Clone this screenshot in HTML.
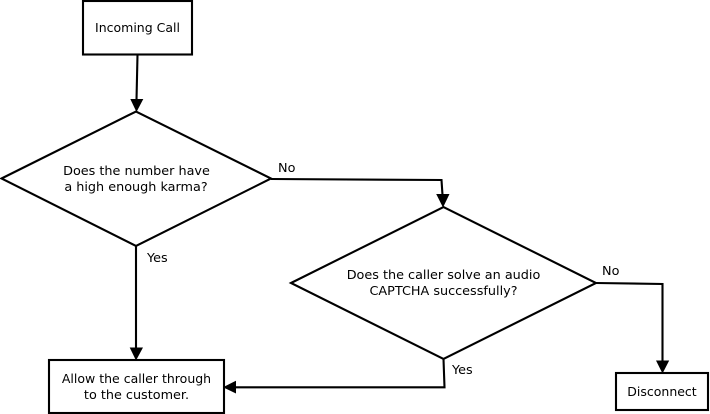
<!DOCTYPE html>
<html>
<head>
<meta charset="utf-8">
<style>
html,body{margin:0;padding:0;background:#fff;width:710px;height:414px;overflow:hidden}
svg{display:block}
text{font-family:"DejaVu Sans",sans-serif;font-size:12.8px;fill:#000}
text.s{font-size:12.5px}
</style>
</head>
<body>
<svg width="710" height="414" viewBox="0 0 710 414" xmlns="http://www.w3.org/2000/svg">
<g fill="#fff" stroke="#000" stroke-width="2.1">
<rect x="83" y="1" width="109" height="53.5"/>
<polygon points="1.5,178.5 136,111.5 271,178.5 136,246"/>
<polygon points="291,283 443.5,207 596,283 443.5,359"/>
<rect x="49" y="360" width="175" height="53"/>
<rect x="616" y="373" width="92" height="37"/>
</g>
<g fill="none" stroke="#000" stroke-width="2.1">
<path d="M137.5,55 L136.5,100"/>
<path d="M271,179 L441.5,180 L442.5,195"/>
<path d="M136,246 L136,349"/>
<path d="M443.5,359 L444.5,387.3 L234,387.3"/>
<path d="M596,283 L662.5,284 L662.5,362"/>
</g>
<g fill="#000" stroke="none">
<polygon points="130.3,99 143.3,99 136.5,112"/>
<polygon points="436.2,194 449.5,194 443,207.5"/>
<polygon points="129.7,347.5 143,347.5 136,360.5"/>
<polygon points="236,380.7 236,393.5 223,387.2"/>
<polygon points="656,360.5 669.2,360.5 662.5,373.5"/>
</g>
<g text-anchor="middle">
<text class="s" x="137.5" y="32">Incoming Call</text>
<text x="136.5" y="175">Does the number have</text>
<text x="136" y="191">a high enough karma?</text>
<text x="443.5" y="279">Does the caller solve an audio</text>
<text x="443.5" y="295">CAPTCHA successfully?</text>
<text class="s" x="136.5" y="383">Allow the caller through</text>
<text x="136.5" y="399">to the customer.</text>
<text class="s" x="662" y="396">Disconnect</text>
</g>
<text x="278" y="172">No</text>
<text x="147" y="262">Yes</text>
<text x="602" y="275">No</text>
<text x="452" y="374">Yes</text>
</svg>
</body>
</html>
